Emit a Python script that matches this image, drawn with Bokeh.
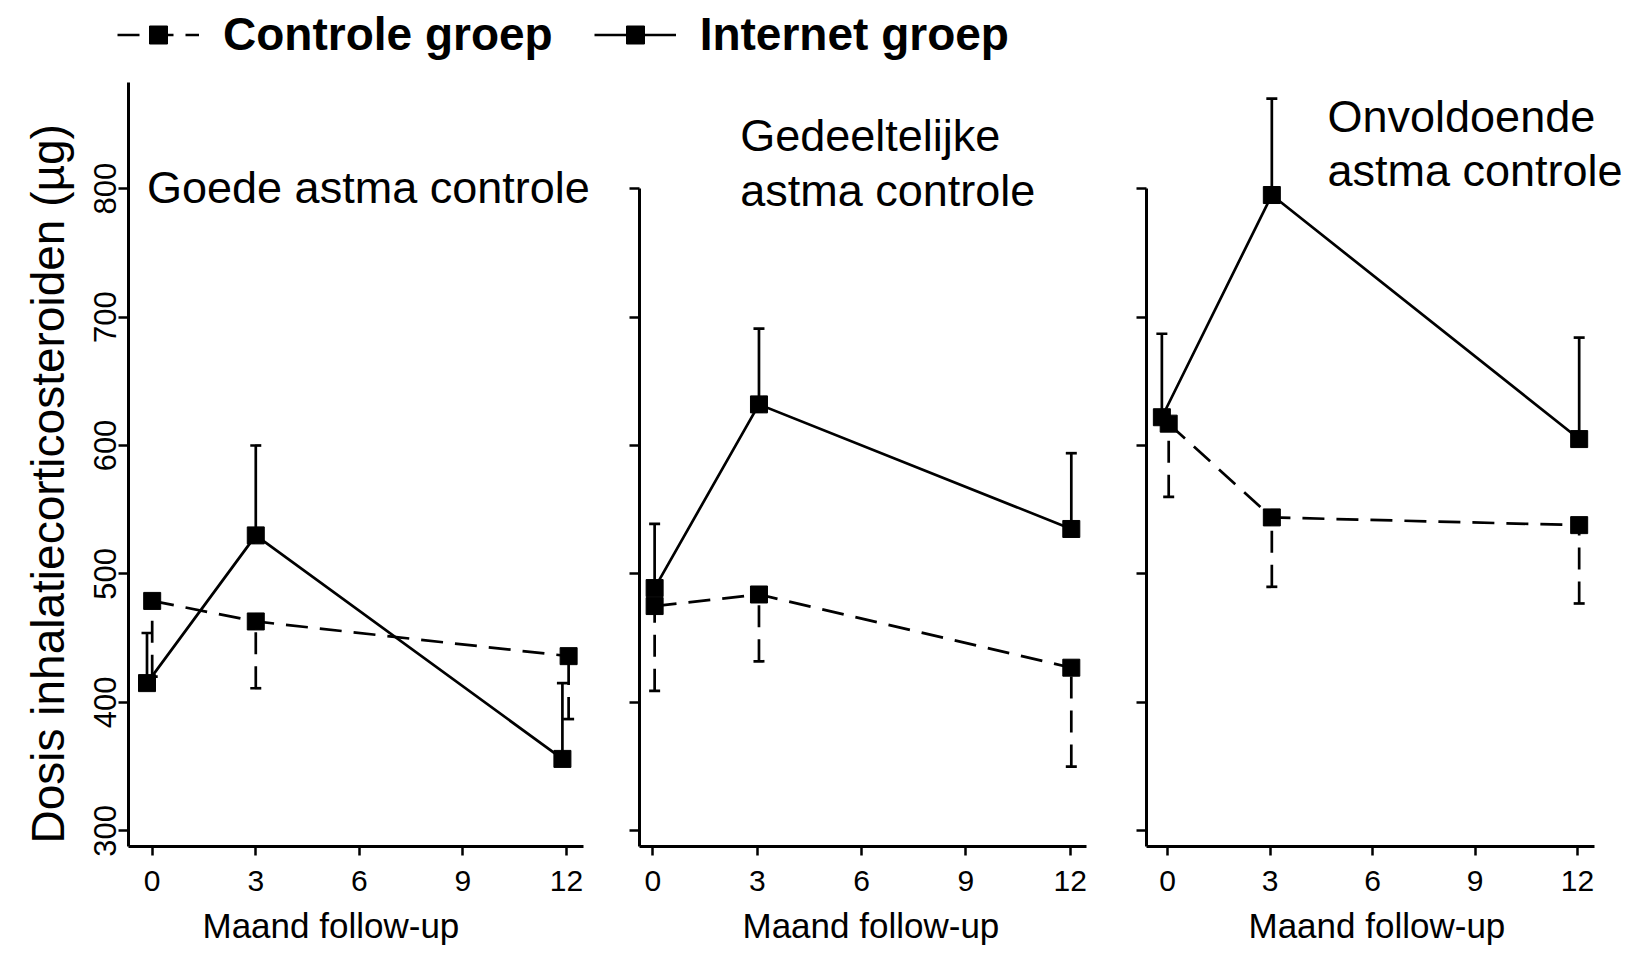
from bokeh.plotting import figure
from bokeh.models import (Range1d, FixedTicker, Whisker, TeeHead, ColumnDataSource,
                          Label, Legend, LegendItem, CustomJSTickFormatter, Title)
from bokeh.layouts import column, row
from bokeh.embed import file_html
from bokeh.resources import INLINE

FONT = "Liberation Sans"

# ---------------- data ----------------
month_ticks = [0, 3, 6, 9, 12]
dose_ticks = [300, 400, 500, 600, 700, 800]

panel_titles = [["Goede astma controle"],
                ["Gedeeltelijke", "astma controle"],
                ["Onvoldoende", "astma controle"]]

series_names = ["Controle groep", "Internet groep"]
x_label = "Maand follow-up"
y_label = "Dosis inhalatiecorticosteroiden (µg)"

# Internet groep (solid line, upper error bar)
internet_x = [[-0.15, 3.0, 11.88], [0.05, 3.05, 12.03], [-0.17, 3.05, 12.05]]
internet_mean = [[415, 530, 356], [489, 632, 535], [622, 795, 605]]
internet_upper = [[454, 600, 415], [539, 691, 594], [687, 870, 684]]

# Controle groep (dashed line, lower error bar)
control_x = [[0.0, 3.0, 12.06], [0.05, 3.05, 12.03], [0.03, 3.05, 12.05]]
control_mean = [[479, 463, 436], [475, 484, 427], [617, 544, 538]]
control_lower = [[420, 411, 387], [409, 432, 350], [560, 490, 477]]

# ---------------- layout / style ----------------
x_ranges = [(-0.686, 13.128), (-0.385, 13.157), (-0.62, 13.553)]
x_bounds = [(-0.686, 12.48), (-0.385, 12.48), (-0.62, 12.49)]
y_range = (287.8, 882.6)
y_bounds = [None, (287.8, 800), (287.8, 800)]
frame_w = [477, 471, 484]
border_l = [128, 34, 36]
frame_h = 764
border_b = 110
legend_h = 82
xlabel_offset = [74, 103, 102]
title_pos = [[(-0.15, 801)], [(2.51, 841.5), (2.51, 798.7)], [(4.68, 855.8), (4.68, 814.3)]]
DASH = "22 12"
LW = 2.7
MS = 17

panels = []
for k in range(3):
    p = figure(frame_width=frame_w[k], frame_height=frame_h,
               x_range=Range1d(*x_ranges[k]), y_range=Range1d(*y_range),
               toolbar_location=None, output_backend="svg",
               min_border_left=border_l[k], min_border_right=0,
               min_border_top=0, min_border_bottom=border_b)
    p.outline_line_color = None
    p.grid.visible = False
    p.background_fill_color = "white"

    # axes
    p.xaxis.ticker = FixedTicker(ticks=month_ticks)
    p.yaxis.ticker = FixedTicker(ticks=dose_ticks)
    for ax in (p.xaxis, p.yaxis):
        ax.axis_line_width = 3
        ax.axis_line_color = "black"
        ax.major_tick_line_width = 2.5
        ax.major_tick_line_color = "black"
        ax.major_tick_in = 0
        ax.minor_tick_line_color = None
        ax.major_label_text_font = FONT
        ax.major_label_text_color = "black"
    p.xaxis.bounds = x_bounds[k]
    p.xaxis.major_tick_out = 9
    p.xaxis.major_label_text_font_size = "30px"
    p.xaxis.major_label_standoff = 15
    p.yaxis.major_tick_out = 10
    if y_bounds[k] is not None:
        p.yaxis.bounds = y_bounds[k]
    if k == 0:
        p.yaxis.major_label_orientation = "vertical"
        p.yaxis.major_label_text_font_size = "31px"
        p.yaxis.major_label_standoff = 2
        p.add_layout(Title(text=y_label, align="left", offset=3, standoff=35,
                           text_font=FONT, text_font_size="46px", text_font_style="normal",
                           text_color="black"), "left")
    else:
        p.yaxis.formatter = CustomJSTickFormatter(code="return ''")
        p.yaxis.major_label_standoff = 0
    p.add_layout(Title(text=x_label, align="left", offset=xlabel_offset[k], standoff=21,
                       text_font=FONT, text_font_size="35px", text_font_style="normal",
                       text_color="black"), "below")

    src_i = ColumnDataSource(dict(x=internet_x[k], y=internet_mean[k], up=internet_upper[k]))
    src_c = ColumnDataSource(dict(x=control_x[k], y=control_mean[k], lo=control_lower[k]))

    p.add_layout(Whisker(base="x", lower="y", upper="up", source=src_i, dimension="height",
                         line_width=LW, line_color="black",
                         upper_head=TeeHead(size=11, line_width=LW, line_color="black"),
                         lower_head=None))
    p.add_layout(Whisker(base="x", lower="lo", upper="y", source=src_c, dimension="height",
                         line_width=LW, line_color="black", line_dash=DASH,
                         lower_head=TeeHead(size=11, line_width=LW, line_color="black"),
                         upper_head=None))

    p.line("x", "y", source=src_c, line_width=LW, line_color="black", line_dash=DASH)
    p.line("x", "y", source=src_i, line_width=LW, line_color="black")
    p.scatter("x", "y", source=src_c, marker="square", size=MS, fill_color="black", line_color="black")
    p.scatter("x", "y", source=src_i, marker="square", size=MS, fill_color="black", line_color="black")

    for text, (tx, ty) in zip(panel_titles[k], title_pos[k]):
        p.add_layout(Label(x=tx, y=ty, text=text, text_font=FONT, text_font_size="45px",
                           text_color="black", text_align="left", text_baseline="alphabetic"))
    panels.append(p)

total_w = sum(frame_w) + sum(border_l)

# legend strip on top (its renderers hold data that lies outside its own 0..1 ranges,
# so only the legend glyphs are visible)
leg = figure(width=total_w, height=legend_h, x_range=Range1d(0, 1), y_range=Range1d(0, 1),
             x_axis_type=None, y_axis_type=None, toolbar_location=None,
             output_backend="svg", min_border=0)
leg.outline_line_color = None
leg.grid.visible = False
leg_c = ColumnDataSource(dict(x=control_x[0], y=control_mean[0]))
leg_i = ColumnDataSource(dict(x=internet_x[0], y=internet_mean[0]))
lc = leg.line("x", "y", source=leg_c, line_width=LW, line_color="black", line_dash=DASH)
mc = leg.scatter("x", "y", source=leg_c, marker="square", size=MS, fill_color="black", line_color="black")
li = leg.line("x", "y", source=leg_i, line_width=LW, line_color="black")
mi = leg.scatter("x", "y", source=leg_i, marker="square", size=MS, fill_color="black", line_color="black")
legend = Legend(items=[LegendItem(label=series_names[0], renderers=[lc, mc]),
                       LegendItem(label=series_names[1], renderers=[li, mi])],
                orientation="horizontal", location=(117, 21),
                label_text_font=FONT, label_text_font_size="46px", label_text_font_style="bold",
                label_text_color="black",
                glyph_width=82, glyph_height=45, label_standoff=24, spacing=41,
                padding=0, margin=0, border_line_color=None, background_fill_alpha=0)
leg.add_layout(legend)

layout = column(leg, row(*panels))

open("out.html", "w").write(file_html(layout, INLINE))
